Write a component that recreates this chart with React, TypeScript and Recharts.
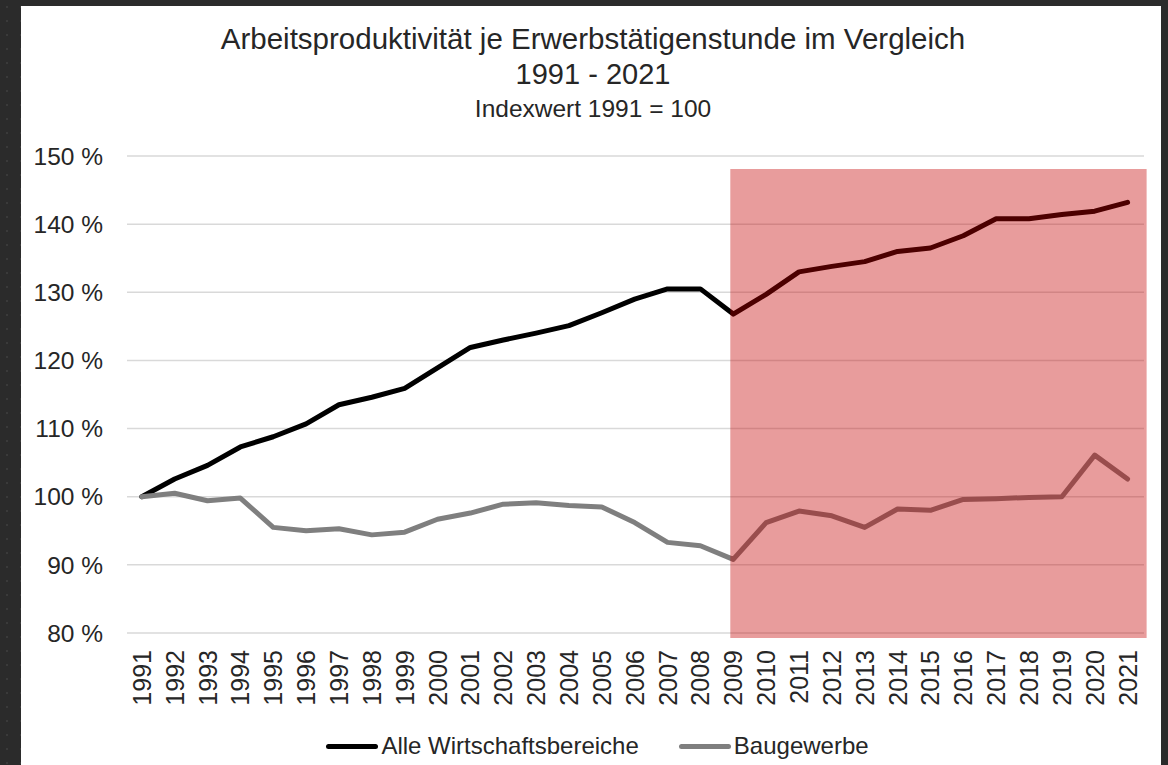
import { LineChart, Line, XAxis, YAxis, CartesianGrid, ReferenceArea, Legend } from "recharts";

const years = [
  1991, 1992, 1993, 1994, 1995, 1996, 1997, 1998, 1999, 2000, 2001, 2002, 2003, 2004, 2005, 2006,
  2007, 2008, 2009, 2010, 2011, 2012, 2013, 2014, 2015, 2016, 2017, 2018, 2019, 2020, 2021,
];
const alleWirtschaftsbereiche = [
  100, 102.6, 104.6, 107.3, 108.8, 110.7, 113.5, 114.6, 115.9, 118.9, 121.9, 123.0, 124.0, 125.1,
  127.0, 129.0, 130.5, 130.5, 126.8, 129.7, 133.0, 133.8, 134.5, 136.0, 136.5, 138.3, 140.8, 140.8,
  141.4, 141.9, 143.2,
];
const baugewerbe = [
  100, 100.5, 99.4, 99.8, 95.5, 95.0, 95.3, 94.4, 94.8, 96.7, 97.6, 98.9, 99.1, 98.7, 98.5, 96.2,
  93.3, 92.8, 90.8, 96.2, 97.9, 97.2, 95.5, 98.2, 98.0, 99.6, 99.7, 99.9, 100.0, 106.1, 102.6,
];
const yTicks = [80, 90, 100, 110, 120, 130, 140, 150];
// highlighted period (years / index values)
const highlightX = [2008.91, 2021.58];
const highlightY = [79.27, 148.1];

const series = [
  { key: "alle", name: "Alle Wirtschaftsbereiche", color: "#000000" },
  { key: "bau", name: "Baugewerbe", color: "#7f7f7f" },
];

const data = years.map((year, i) => ({
  year,
  alle: alleWirtschaftsbereiche[i],
  bau: baugewerbe[i],
}));

const FONT = '"Liberation Sans", Arial, sans-serif';
const TEXT = "#262626";

const YearTick = ({ x, y, payload }: any) => (
  <text
    x={x}
    y={y}
    transform={`rotate(-90 ${x} ${y})`}
    textAnchor="end"
    dominantBaseline="central"
    fontSize={25}
    fontFamily={FONT}
    fill={TEXT}
  >
    {payload.value}
  </text>
);

const LegendContent = () => (
  <div
    style={{
      height: 26,
      display: "flex",
      justifyContent: "center",
      alignItems: "center",
      paddingLeft: 30,
      fontFamily: FONT,
      fontSize: 24,
      color: TEXT,
    }}
  >
    {series.map((s, i) => (
      <div key={s.key} style={{ display: "flex", alignItems: "center", marginLeft: i ? 40 : 0 }}>
        <span style={{ width: 52, height: 5, borderRadius: 3, background: s.color, marginRight: 3 }} />
        <span>{s.name}</span>
      </div>
    ))}
  </div>
);

export default function App() {
  return (
    <div
      style={{
        position: "fixed",
        left: 0,
        top: 0,
        width: 1168,
        height: 765,
        overflow: "hidden",
        background: "#2b2b2b",
        backgroundImage: "radial-gradient(#3a3a3a 1px, transparent 1px)",
        backgroundSize: "14px 14px",
      }}
    >
      <div style={{ position: "absolute", left: 21, top: 6, width: 1140, height: 759, background: "#fff" }}>
        <svg width={1140} height={130} style={{ position: "absolute", left: 0, top: 0 }}>
          <g fontFamily={FONT} fill={TEXT} textAnchor="middle">
            <text x={572} y={43} fontSize={29.5}>
              Arbeitsproduktivität je Erwerbstätigenstunde im Vergleich
            </text>
            <text x={572} y={78} fontSize={29}>
              1991 - 2021
            </text>
            <text x={572} y={111} fontSize={24.5}>
              Indexwert 1991 = 100
            </text>
          </g>
        </svg>
        <LineChart width={1140} height={759} data={data} margin={{ top: 150, right: 17, left: 0, bottom: 6 }}>
          <CartesianGrid vertical={false} stroke="#d9d9d9" strokeWidth={1.5} />
          <XAxis
            dataKey="year"
            type="number"
            domain={[1990.55, 2021.5]}
            ticks={years}
            interval={0}
            axisLine={false}
            tickLine={false}
            tickSize={0}
            tickMargin={17}
            height={100}
            tick={<YearTick />}
          />
          <YAxis
            domain={[80, 150]}
            ticks={yTicks}
            width={106}
            axisLine={false}
            tickLine={false}
            tickSize={0}
            tickMargin={24}
            tickFormatter={(v: number) => `${v} %`}
            tick={{ fontSize: 24.5, fontFamily: FONT, fill: TEXT }}
          />
          {series.map((s) => (
            <Line
              key={s.key}
              type="linear"
              dataKey={s.key}
              name={s.name}
              stroke={s.color}
              strokeWidth={5}
              strokeLinejoin="round"
              strokeLinecap="round"
              dot={false}
              activeDot={false}
              isAnimationActive={false}
            />
          ))}
          <ReferenceArea
            x1={highlightX[0]}
            x2={highlightX[1]}
            y1={highlightY[0]}
            y2={highlightY[1]}
            ifOverflow="visible"
            fill="#c40000"
            fillOpacity={0.39}
            stroke="none"
            zIndex={1500}
          />
          <Legend verticalAlign="bottom" content={<LegendContent />} />
        </LineChart>
      </div>
    </div>
  );
}
